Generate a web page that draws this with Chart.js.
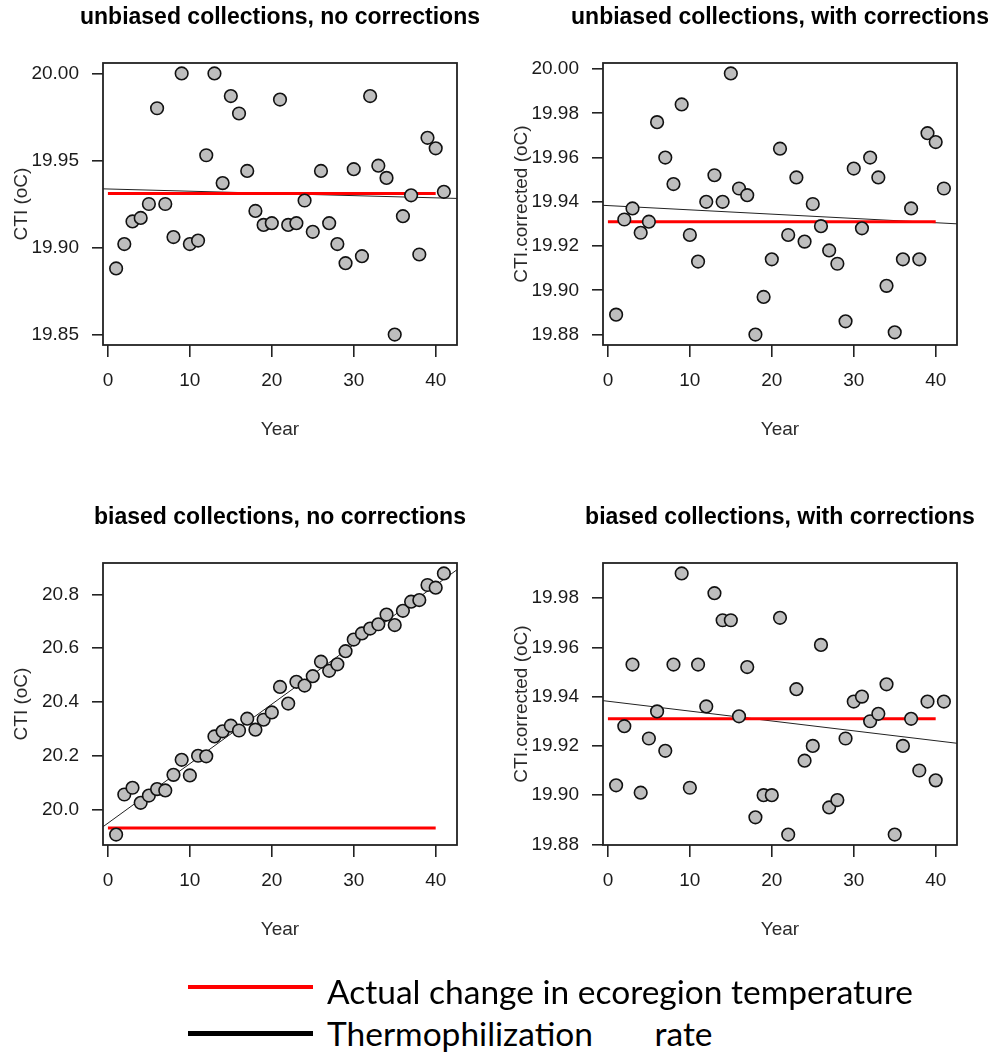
<!DOCTYPE html>
<html>
<head>
<meta charset="utf-8">
<title>CTI trends</title>
<script src="https://cdn.jsdelivr.net/npm/chart.js@4.4.1/dist/chart.umd.min.js"></script>
<style>
  html, body { margin: 0; padding: 0; background: #fff; overflow: hidden; }
  #page { position: relative; width: 996px; height: 1057px; }
  .panel { position: absolute; }
  .key-line { position: absolute; left: 188px; width: 125px; }
  .key-text { position: absolute; left: 327px; font-family: Lato, "Open Sans", sans-serif; font-size: 33.5px;
              line-height: 40px; color: #000; white-space: nowrap; }
</style>
</head>
<body>
<div id="page">
  <canvas class="panel" id="p1" width="496" height="500" style="left:0;top:0"></canvas>
  <canvas class="panel" id="p2" width="496" height="500" style="left:500px;top:0"></canvas>
  <canvas class="panel" id="p3" width="496" height="500" style="left:0;top:500px"></canvas>
  <canvas class="panel" id="p4" width="496" height="500" style="left:500px;top:500px"></canvas>

  <div class="key-line" style="top:985px;height:4px;background:#ff0000"></div>
  <div class="key-text" style="top:971px">Actual change in ecoregion temperature</div>
  <div class="key-line" style="top:1031px;height:5px;background:#000"></div>
  <div class="key-text" style="top:1013px;word-spacing:53px">Thermophilization rate</div>
</div>

<script>
// years of collection
const years = [1, 2, 3, 4, 5, 6, 7, 8, 9, 10, 11, 12, 13, 14, 15, 16, 17, 18, 19, 20,
               21, 22, 23, 24, 25, 26, 27, 28, 29, 30, 31, 32, 33, 34, 35, 36, 37, 38, 39, 40, 41];
const xTicks = [0, 10, 20, 30, 40];

// true ecoregion temperature (flat) and the years it covers
const actualChange = 19.931;
const actualSpan = [0, 40];

// community temperature index per year
const ctiUnbiased = [19.888, 19.902, 19.915, 19.917, 19.925, 19.980, 19.925, 19.906, 20.000, 19.902,
                     19.904, 19.953, 20.000, 19.937, 19.987, 19.977, 19.944, 19.921, 19.913, 19.914,
                     19.985, 19.913, 19.914, 19.927, 19.909, 19.944, 19.914, 19.902, 19.891, 19.945,
                     19.895, 19.987, 19.947, 19.940, 19.850, 19.918, 19.930, 19.896, 19.963, 19.957,
                     19.932];
const ctiUnbiasedCorrected = [19.889, 19.932, 19.937, 19.926, 19.931, 19.976, 19.960, 19.948, 19.984, 19.925,
                              19.913, 19.940, 19.952, 19.940, 19.998, 19.946, 19.943, 19.880, 19.897, 19.914,
                              19.964, 19.925, 19.951, 19.922, 19.939, 19.929, 19.918, 19.912, 19.886, 19.955,
                              19.928, 19.960, 19.951, 19.902, 19.881, 19.914, 19.937, 19.914, 19.971, 19.967,
                              19.946];
const ctiBiased = [19.907, 20.056, 20.081, 20.025, 20.052, 20.076, 20.071, 20.129, 20.185, 20.127,
                   20.200, 20.198, 20.272, 20.291, 20.312, 20.294, 20.338, 20.297, 20.334, 20.361,
                   20.456, 20.394, 20.475, 20.461, 20.496, 20.550, 20.516, 20.540, 20.589, 20.632,
                   20.655, 20.673, 20.689, 20.725, 20.686, 20.739, 20.773, 20.779, 20.835, 20.825,
                   20.878];
const ctiBiasedCorrected = [19.904, 19.928, 19.953, 19.901, 19.923, 19.934, 19.918, 19.953, 19.990, 19.903,
                            19.953, 19.936, 19.982, 19.971, 19.971, 19.932, 19.952, 19.891, 19.900, 19.900,
                            19.972, 19.884, 19.943, 19.914, 19.920, 19.961, 19.895, 19.898, 19.923, 19.938,
                            19.940, 19.930, 19.933, 19.945, 19.884, 19.920, 19.931, 19.910, 19.938, 19.906,
                            19.938];

// y tick labels per panel
const ticksUnbiased = [19.85, 19.90, 19.95, 20.00];
const ticksUnbiasedCorrected = [19.88, 19.90, 19.92, 19.94, 19.96, 19.98, 20.00];
const ticksBiased = [20.0, 20.2, 20.4, 20.6, 20.8];
const ticksBiasedCorrected = [19.88, 19.90, 19.92, 19.94, 19.96, 19.98];

const FONT = '"Liberation Sans", Arial, sans-serif';
const axisFont = { family: FONT, size: 19 };

// base-graphics style range: data range widened by 4% on each side
function paddedRange(values) {
  const lo = Math.min(...values);
  const hi = Math.max(...values);
  const pad = (hi - lo) * 0.04;
  return [lo - pad, hi + pad];
}

// ordinary least squares fit of values on years
function fitLine(xs, ys) {
  const n = xs.length;
  const mx = xs.reduce((s, v) => s + v, 0) / n;
  const my = ys.reduce((s, v) => s + v, 0) / n;
  let sxy = 0, sxx = 0;
  for (let i = 0; i < n; i++) {
    sxy += (xs[i] - mx) * (ys[i] - my);
    sxx += (xs[i] - mx) * (xs[i] - mx);
  }
  const slope = sxy / sxx;
  return { slope, intercept: my - slope * mx };
}

// box round the plot region and a bold title centred over it
const panelFrame = {
  id: 'panelFrame',
  afterDatasetsDraw(chart, args, opts) {
    const { ctx, chartArea: a } = chart;
    ctx.save();
    ctx.strokeStyle = '#222';
    ctx.lineWidth = 1.8;
    ctx.strokeRect(a.left, a.top, a.right - a.left, a.bottom - a.top);
    ctx.fillStyle = '#000';
    ctx.font = 'bold 23px ' + FONT;
    ctx.textAlign = 'center';
    ctx.textBaseline = 'middle';
    ctx.fillText(opts.text, (a.left + a.right) / 2, 18);
    ctx.restore();
  }
};

function axisGrid(len) {
  return { display: true, drawOnChartArea: false, drawTicks: true, tickLength: len, color: '#222', lineWidth: 1.6 };
}

function drawPanel(id, title, yLabel, values, yTicks, digits) {
  const [xMin, xMax] = paddedRange(years);
  const [yMin, yMax] = paddedRange(values);
  const fit = fitLine(years, values);

  new Chart(document.getElementById(id), {
    type: 'scatter',
    data: {
      datasets: [
        {
          label: 'Thermophilization rate',
          data: [xMin, xMax].map(x => ({ x, y: fit.intercept + fit.slope * x })),
          showLine: true,
          borderColor: '#222',
          borderWidth: 1,
          pointRadius: 0,
          order: 3
        },
        {
          label: 'Actual change in ecoregion temperature',
          data: actualSpan.map(x => ({ x, y: actualChange })),
          showLine: true,
          borderColor: '#ff0000',
          borderWidth: 3,
          pointRadius: 0,
          order: 2
        },
        {
          label: yLabel,
          data: years.map((x, i) => ({ x, y: values[i] })),
          pointRadius: 6.3,
          pointBackgroundColor: '#bebebe',
          pointBorderColor: '#111',
          pointBorderWidth: 1.6,
          order: 1
        }
      ]
    },
    options: {
      responsive: false,
      animation: false,
      layout: { padding: { top: 63, right: 39, left: 0, bottom: 0 } },
      plugins: {
        legend: { display: false },
        tooltip: { enabled: false },
        panelFrame: { text: title }
      },
      scales: {
        x: {
          type: 'linear',
          min: xMin,
          max: xMax,
          afterBuildTicks: s => { s.ticks = xTicks.map(v => ({ value: v })); },
          afterFit: s => { s.height = 155; },
          grid: axisGrid(12),
          border: { display: false },
          ticks: { font: axisFont, color: '#1a1a1a', padding: 12, maxRotation: 0, autoSkip: false },
          title: { display: true, text: 'Year', font: axisFont, color: '#2a2a2a', padding: { top: 0, bottom: 59 } }
        },
        y: {
          type: 'linear',
          min: yMin,
          max: yMax,
          afterBuildTicks: s => { s.ticks = yTicks.map(v => ({ value: v })); },
          afterFit: s => { s.width = 103; },
          grid: axisGrid(11),
          border: { display: false },
          ticks: { font: axisFont, color: '#1a1a1a', padding: 13, autoSkip: false,
                    callback: v => Number(v).toFixed(digits) },
          title: { display: true, text: yLabel, font: axisFont, color: '#2a2a2a', padding: { top: 10, bottom: 0 } }
        }
      }
    },
    plugins: [panelFrame]
  });
}

drawPanel('p1', 'unbiased collections, no corrections', 'CTI (oC)', ctiUnbiased, ticksUnbiased, 2);
drawPanel('p2', 'unbiased collections, with corrections', 'CTI.corrected (oC)', ctiUnbiasedCorrected, ticksUnbiasedCorrected, 2);
drawPanel('p3', 'biased collections, no corrections', 'CTI (oC)', ctiBiased, ticksBiased, 1);
drawPanel('p4', 'biased collections, with corrections', 'CTI.corrected (oC)', ctiBiasedCorrected, ticksBiasedCorrected, 2);
</script>
</body>
</html>
